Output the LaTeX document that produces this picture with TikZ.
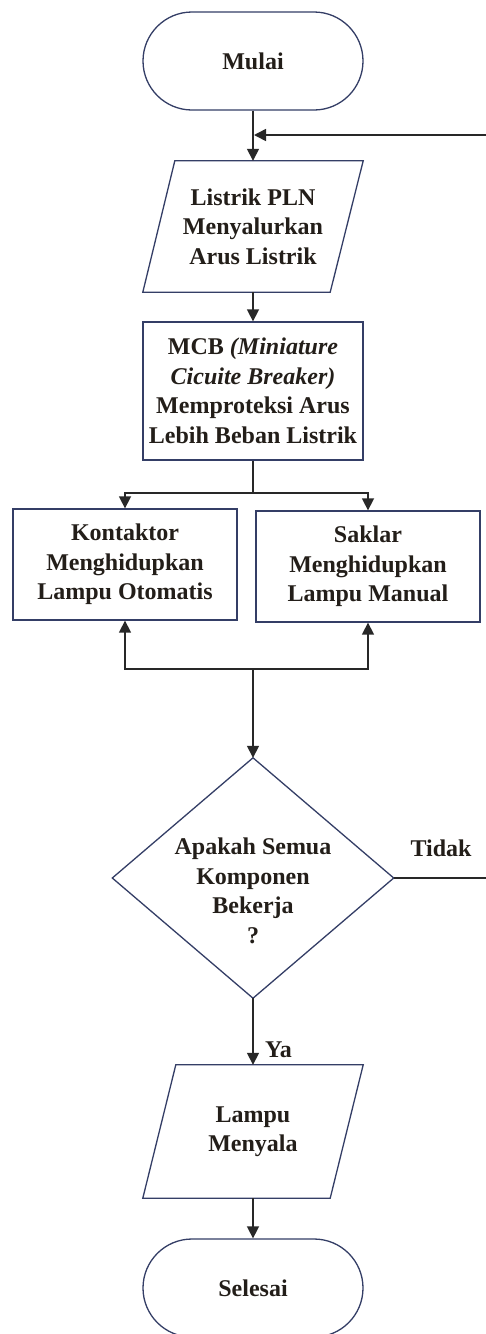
\documentclass[tikz,border=0pt]{standalone}
\usepackage{fontspec}
\setmainfont{Liberation Serif}
\usetikzlibrary{arrows.meta,calc}
\definecolor{outl}{RGB}{52,62,102}
\definecolor{lin}{RGB}{40,40,40}
\definecolor{txtc}{RGB}{35,30,25}
\begin{document}
\begin{tikzpicture}[x=1pt,y=1pt,
  lbl/.style={font=\fontsize{24}{29.5}\selectfont\bfseries, text=txtc, align=center, inner sep=0pt},
  term/.style={lbl, draw=outl, line width=1.3pt, rectangle, rounded corners=49pt, minimum width=220pt, minimum height=98pt},
  rectbox/.style={lbl, draw=outl, line width=1.3pt, rectangle},
  frame/.style={lbl, minimum width=220pt},
  outline/.style={draw=outl, line width=1.3pt},
  conn/.style={draw=lin, line width=1.5pt, -{Triangle[width=12pt,length=12pt]}},
  plain/.style={draw=lin, line width=1.5pt}
]
\useasboundingbox (0,0) rectangle (486,-1334);
\fill[white] (0,0) rectangle (486,-1334);

\node[term] (mulai) at (253,-61) {Mulai};

\node[frame, minimum height=131pt] (p1) at (253,-226.5) {Listrik PLN\\Menyalurkan\\Arus Listrik};
\draw[outline] ($(p1.north west)+(32,0)$) -- (p1.north east) -- ($(p1.south east)+(-33,0)$) -- (p1.south west) -- cycle;

\node[rectbox, minimum width=220pt, minimum height=138pt] (mcb) at (253,-391) {MCB \textit{(Miniature}\\\textit{Cicuite Breaker)}\\Memproteksi Arus\\Lebih Beban Listrik};

\node[rectbox, minimum width=224pt, minimum height=111pt] (kon) at (125,-564.5) {Kontaktor\\Menghidupkan\\Lampu Otomatis};
\node[rectbox, minimum width=224pt, minimum height=111pt] (sak) at (368,-566.5) {Saklar\\Menghidupkan\\Lampu Manual};

\node[minimum width=281pt, minimum height=240pt, inner sep=0pt] (dec) at (253,-878) {};
\draw[outline] (dec.north) -- (dec.east) -- (dec.south) -- (dec.west) -- cycle;
\node[lbl] (dectext) at (253,-891) {Apakah Semua\\Komponen\\Bekerja\\?};
\node[lbl] (tidak) at (441,-848) {Tidak};

\node[frame, minimum height=133pt] (p2) at (253,-1131.5) {Lampu\\Menyala};
\draw[outline] ($(p2.north west)+(33,0)$) -- (p2.north east) -- ($(p2.south east)+(-33,0)$) -- (p2.south west) -- cycle;

\node[term] (sel) at (253,-1288) {Selesai};

% connectors
\coordinate (join) at (254,-135);
\coordinate (far) at (490,-878);
\coordinate (split) at (253,-493);
\coordinate (merge) at (253,-669);

\draw[conn] (mulai.south) -- (p1.north);
\draw[conn] (dec.east) -- (far) |- (join);
\draw[conn] (p1.south) -- (mcb.north);
\draw[plain] (mcb.south) -- (split);
\draw[conn] (split) -| (kon.north);
\draw[conn] (split) -| (sak.north);
\draw[conn] (merge) -| (kon.south);
\draw[conn] (merge) -| (sak.south);
\draw[conn] (merge) -- (dec.north);
\draw[conn] (dec.south) -- (p2.north);
\node[lbl, anchor=west] (ya) at (265,-1050) {Ya};
\draw[conn] (p2.south) -- (sel.north);
\end{tikzpicture}
\end{document}
